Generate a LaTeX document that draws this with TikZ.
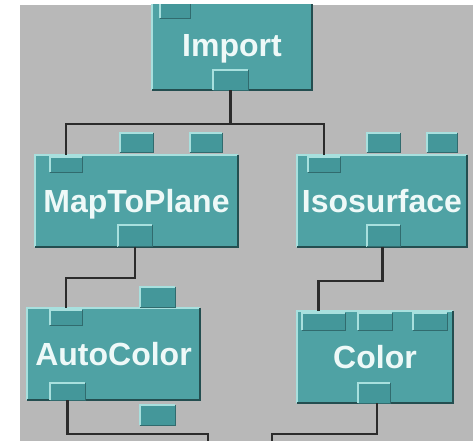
\documentclass[tikz,border=0pt]{standalone}
\usepackage{fontspec}
\setmainfont{Liberation Sans}
\definecolor{bg}{HTML}{B8B8B8}
\definecolor{tealfill}{HTML}{4FA2A4}
\definecolor{portc}{HTML}{44979A}
\definecolor{hl}{HTML}{A8E0DE}
\definecolor{dk}{HTML}{244E50}
\definecolor{wire}{HTML}{2B2B2B}
\definecolor{txt}{HTML}{EEF9F8}
\newcommand{\bevelbox}[1]{%
  \draw[hiline] (#1.south west) -- (#1.north west) -- (#1.north east);
  \draw[dkline] (#1.north east) -- (#1.south east) -- (#1.south west);}
\newcommand{\bevelport}[1]{%
  \draw[hiline] (#1.south west) -- (#1.north west) -- (#1.north east);
  \draw[dkport] (#1.north east) -- (#1.south east) -- (#1.south west);}
\begin{document}
\begin{tikzpicture}[x=1pt,y=-1pt,
  modbox/.style={fill=tealfill, inner sep=0pt, text height=23pt, text depth=0pt, font=\fontsize{32}{32}\selectfont\bfseries, text=txt},
  port/.style={fill=portc, inner sep=0pt},
  hiline/.style={draw=hl, line width=1.6pt},
  dkline/.style={draw=dk, line width=1.8pt},
  dkport/.style={draw=dk!60!portc, line width=1pt},
  wireline/.style={draw=wire, line width=2.2pt}]
\useasboundingbox (0,0) rectangle (475,441);
\fill[white] (0,0) rectangle (475,441);
\begin{scope}
\clip (20,5) rectangle (473,441);
\fill[bg] (20,5) rectangle (473,441);

% junction levels and free ends
\coordinate (j1) at (0,124);
\coordinate (j2) at (0,278);
\coordinate (j3) at (0,281);
\coordinate (j4) at (0,434);
\coordinate (endL) at (208,446);
\coordinate (endR) at (272,446);

% modules
\node[modbox, minimum width=160pt, minimum height=90pt] (imp) at (232,45) {Import};
\node[modbox, minimum width=203pt, minimum height=92pt] (mtp) at (136.5,201) {MapToPlane};
\node[modbox, minimum width=170pt, minimum height=92pt] (iso) at (382,201) {Isosurface};
\node[modbox, minimum width=173pt, minimum height=92pt] (ac) at (113.5,354) {AutoColor};
\node[modbox, minimum width=156pt, minimum height=92pt] (col) at (375,357) {Color};
\bevelbox{imp}\bevelbox{mtp}\bevelbox{iso}\bevelbox{ac}\bevelbox{col}

% ports
\node[port, minimum width=30pt, minimum height=15pt] (impin) at (175,10.5) {};
\node[port, minimum width=35pt, minimum height=20pt] (impout) at (230.5,80) {};
\node[port, minimum width=33pt, minimum height=19pt] (mtpa) at (136.5,142.5) {};
\node[port, minimum width=32pt, minimum height=19pt] (mtpb) at (206,142.5) {};
\node[port, minimum width=32pt, minimum height=15pt] (mtpin) at (66,164.5) {};
\node[port, minimum width=34pt, minimum height=21pt] (mtpout) at (135,236) {};
\node[port, minimum width=33pt, minimum height=19pt] (isoa) at (383.5,142.5) {};
\node[port, minimum width=30pt, minimum height=19pt] (isob) at (442,142.5) {};
\node[port, minimum width=32pt, minimum height=15pt] (isoin) at (324,164.5) {};
\node[port, minimum width=33pt, minimum height=21pt] (isoout) at (383.5,236) {};
\node[port, minimum width=35pt, minimum height=20pt] (aca) at (157.5,297) {};
\node[port, minimum width=32pt, minimum height=15pt] (acin) at (66,317.5) {};
\node[port, minimum width=35pt, minimum height=17pt] (acout) at (67.5,391.5) {};
\node[port, minimum width=35pt, minimum height=20pt] (acb) at (157.5,415) {};
\node[port, minimum width=43pt, minimum height=17pt] (colin1) at (323.5,321.5) {};
\node[port, minimum width=34pt, minimum height=17pt] (colin2) at (375,321.5) {};
\node[port, minimum width=34pt, minimum height=17pt] (colin3) at (430,321.5) {};
\node[port, minimum width=32pt, minimum height=20pt] (colout) at (374,393) {};
\foreach \p in {impin,impout,mtpa,mtpb,mtpin,mtpout,isoa,isob,isoin,isoout,aca,acin,acout,acb,colin1,colin2,colin3,colout}
  {\bevelport{\p}}

% wires
\draw[wireline] (impout.south) -- (impout.south |- j1) -| (mtp.north -| mtpin);
\draw[wireline] (impout.south |- j1) -| (iso.north -| isoin);
\draw[wireline] (mtpout.south) -- (mtpout.south |- j2) -| (ac.north -| acin);
\draw[wireline] ([xshift=-1pt]isoout.south) -- ([xshift=-1pt]isoout.south |- j3) -| ([xshift=-5pt]col.north -| colin1);
\draw[wireline] (acout.south) -- (acout.south |- j4) -| (endL);
\draw[wireline] ([xshift=3pt]colout.south) -- ([xshift=3pt]colout.south |- j4) -| (endR);
\end{scope}
\end{tikzpicture}
\end{document}
